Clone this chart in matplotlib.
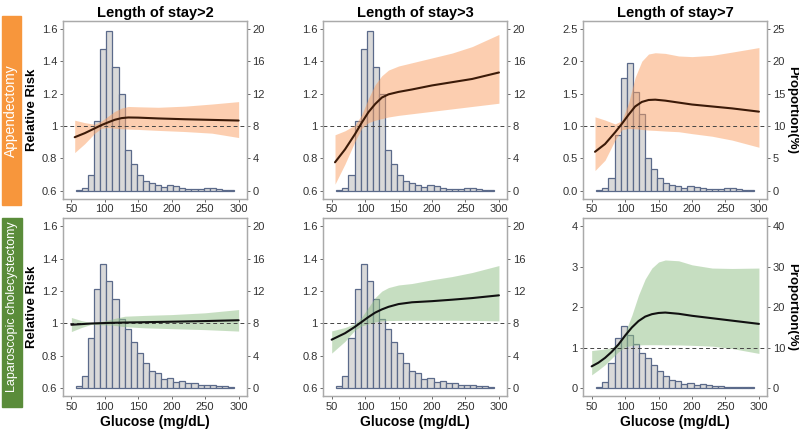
import numpy as np
import matplotlib
matplotlib.use('agg')
import matplotlib.pyplot as plt
from matplotlib.patches import Rectangle

plt.rcParams['font.family'] = ['Liberation Sans', 'DejaVu Sans']

# glucose histogram: bin edges (mg/dL) and proportion of patients (%)
bin_edges = np.linspace(57, 293, 27)
append_prop = [0.12, 0.33, 1.93, 8.6, 17.46, 19.75, 15.3, 11.9, 5.0, 3.3, 1.93, 1.23, 0.94,
               0.7, 0.45, 0.7, 0.6, 0.33, 0.2, 0.2, 0.2, 0.37, 0.37, 0.25, 0.12, 0.12]
chole_prop = [0.29, 1.47, 6.2, 12.3, 15.3, 13.2, 11.0, 8.6, 7.35, 5.7, 4.3, 3.14, 2.12,
              1.84, 1.1, 1.27, 0.73, 0.94, 0.69, 0.65, 0.45, 0.37, 0.37, 0.24, 0.33, 0.2]

# relative risk curves with 95% CI
app2_x = [55, 70, 85, 95, 105, 115, 125, 135, 150, 180, 220, 260, 300]
app2_rr = [0.93, 0.955, 0.985, 1.005, 1.022, 1.038, 1.048, 1.052, 1.051, 1.046, 1.041, 1.037, 1.033]
app2_hi = [1.035, 1.02, 1.01, 1.03, 1.06, 1.09, 1.11, 1.12, 1.118, 1.115, 1.122, 1.135, 1.15]
app2_lo = [0.835, 0.89, 0.955, 0.985, 0.99, 0.985, 0.982, 0.98, 0.978, 0.972, 0.965, 0.955, 0.928]

app3_x = [55, 70, 85, 95, 105, 115, 125, 135, 150, 170, 200, 230, 260, 300]
app3_rr = [0.775, 0.855, 0.95, 1.02, 1.085, 1.135, 1.175, 1.195, 1.21, 1.225, 1.25, 1.27, 1.29, 1.33]
app3_hi = [0.945, 0.97, 1.005, 1.07, 1.17, 1.255, 1.31, 1.345, 1.37, 1.39, 1.42, 1.45, 1.49, 1.565]
app3_lo = [0.64, 0.765, 0.905, 0.985, 1.02, 1.035, 1.045, 1.055, 1.065, 1.075, 1.09, 1.105, 1.12, 1.14]

app7_x = [55, 70, 85, 95, 105, 115, 125, 135, 145, 160, 180, 200, 230, 260, 300]
app7_rr = [0.60, 0.72, 0.90, 1.03, 1.17, 1.30, 1.37, 1.40, 1.405, 1.39, 1.36, 1.33, 1.30, 1.27, 1.22]
app7_hi = [1.14, 1.09, 1.03, 1.08, 1.35, 1.75, 2.00, 2.11, 2.13, 2.12, 2.08, 2.07, 2.09, 2.14, 2.21]
app7_lo = [0.31, 0.47, 0.78, 0.94, 0.96, 0.955, 0.945, 0.935, 0.93, 0.92, 0.91, 0.88, 0.84, 0.78, 0.67]

cho2_x = [50, 65, 80, 95, 110, 130, 160, 200, 250, 300]
cho2_rr = [0.992, 0.996, 1.0, 1.002, 1.004, 1.006, 1.008, 1.011, 1.015, 1.02]
cho2_hi = [1.037, 1.018, 1.005, 1.012, 1.027, 1.045, 1.05, 1.055, 1.066, 1.086]
cho2_lo = [0.95, 0.975, 0.995, 0.992, 0.99, 0.98, 0.973, 0.968, 0.962, 0.953]

cho3_x = [50, 70, 85, 95, 105, 115, 125, 135, 150, 170, 200, 230, 260, 300]
cho3_rr = [0.9, 0.94, 0.98, 1.01, 1.04, 1.067, 1.087, 1.103, 1.12, 1.131, 1.138, 1.147, 1.157, 1.174]
cho3_hi = [0.954, 0.975, 1.0, 1.04, 1.1, 1.16, 1.2, 1.222, 1.238, 1.247, 1.27, 1.29, 1.315, 1.358]
cho3_lo = [0.817, 0.89, 0.96, 0.985, 0.998, 1.01, 1.016, 1.018, 1.019, 1.02, 1.02, 1.02, 1.019, 1.016]

cho7_x = [50, 60, 70, 80, 90, 100, 110, 120, 130, 140, 150, 160, 180, 200, 230, 260, 300]
cho7_rr = [0.54, 0.63, 0.75, 0.90, 1.08, 1.30, 1.50, 1.66, 1.77, 1.83, 1.86, 1.87, 1.84, 1.79, 1.73, 1.67, 1.59]
cho7_hi = [0.93, 0.95, 0.97, 1.00, 1.12, 1.38, 1.80, 2.30, 2.70, 2.97, 3.12, 3.17, 3.15, 3.05, 2.97, 2.96, 2.97]
cho7_lo = [0.33, 0.45, 0.58, 0.74, 0.90, 1.02, 1.06, 1.07, 1.075, 1.075, 1.075, 1.07, 1.07, 1.06, 1.04, 0.98, 0.86]

titles = ['Length of stay>2', 'Length of stay>3', 'Length of stay>7']
x_ticks = [50, 100, 150, 200, 250, 300]

# per-panel axis settings: (rr ticks, rr labels, proportion ticks, rr at 0%, rr per 1%)
small_axis = ([0.6, 0.8, 1, 1.2, 1.4, 1.6], ['0.6', '0.8', '1', '1.2', '1.4', '1.6'],
              [0, 4, 8, 12, 16, 20], 0.6, 0.05)
app7_axis = ([0, 0.5, 1, 1.5, 2, 2.5], ['0.0', '0.5', '1.0', '1.5', '2.0', '2.5'],
             [0, 5, 10, 15, 20, 25], 0.0, 0.1)
cho7_axis = ([0, 1, 2, 3, 4], ['0', '1', '2', '3', '4'], [0, 10, 20, 30, 40], 0.0, 0.1)

rows = [
    (append_prop, '#FA9F62', '#3B1A08',
     [(app2_x, app2_rr, app2_hi, app2_lo, small_axis),
      (app3_x, app3_rr, app3_hi, app3_lo, small_axis),
      (app7_x, app7_rr, app7_hi, app7_lo, app7_axis)]),
    (chole_prop, '#8FBF84', '#111111',
     [(cho2_x, cho2_rr, cho2_hi, cho2_lo, small_axis),
      (cho3_x, cho3_rr, cho3_hi, cho3_lo, small_axis),
      (cho7_x, cho7_rr, cho7_hi, cho7_lo, cho7_axis)]),
]

W, H = 799, 430
fig = plt.figure(figsize=(W / 100, H / 100), dpi=100)
col_left = [63, 323.3, 583.3]
row_top = [20.7, 218.3]
aw, ah = 184, 178
spine_c = '#AAAAAA'
tick_c = '#333333'

for r, (props, fill_c, line_c, panels) in enumerate(rows):
    for c, (gx, rr, hi, lo, axis) in enumerate(panels):
        rt, rl, pt, rr0, k = axis
        ax = fig.add_axes([col_left[c] / W, 1 - (row_top[r] + ah) / H, aw / W, ah / H])
        ax2 = ax.twinx()
        ax.set_zorder(ax2.get_zorder() + 1)
        ax.patch.set_visible(False)

        span = rt[-1] - rt[0]
        lo_lim, hi_lim = rt[0] - 0.05 * span, rt[-1] + 0.05 * span
        ax.set_ylim(lo_lim, hi_lim)
        ax2.set_ylim((lo_lim - rr0) / k, (hi_lim - rr0) / k)
        ax.set_xlim(37.5, 312.5)

        ax2.bar(bin_edges[:-1], props, width=np.diff(bin_edges), align='edge',
                color='#D9D9D9', edgecolor='#5B6A8A', linewidth=0.9)

        ax.fill_between(gx, lo, hi, color=fill_c, alpha=0.5, linewidth=0)
        ax.axhline(1, color='#444444', linestyle=(0, (4, 3)), linewidth=0.7)
        ax.plot(gx, rr, color=line_c, linewidth=1.5, solid_capstyle='round')

        ax.set_yticks(rt)
        ax.set_yticklabels(rl)
        ax2.set_yticks(pt)
        ax.set_xticks(x_ticks)
        for a in (ax, ax2):
            for s in a.spines.values():
                s.set_color(spine_c)
                s.set_linewidth(0.9)
            a.tick_params(labelsize=8, labelcolor=tick_c, color='#555555',
                          length=2.5, width=0.6, pad=1.5)

        if r == 0:
            ax.set_title(titles[c], fontsize=10.5, fontweight='bold', pad=3)
        else:
            ax.set_xlabel('Glucose (mg/dL)', fontsize=10, fontweight='bold', labelpad=2)

        yc = 1 - (row_top[r] + ah / 2) / H
        if c == 0:
            fig.text(31.7 / W, yc, 'Relative Risk', rotation=90, fontsize=9.5,
                     fontweight='bold', ha='center', va='center')
        if c == 2:
            fig.text(792.5 / W, yc, 'Proportion(%)', rotation=270, fontsize=9.5,
                     fontweight='bold', ha='center', va='center')

# group strips on the left
fig.patches.append(Rectangle((1.7 / W, 1 - 205 / H), 19.3 / W, 189 / H,
                             transform=fig.transFigure, color='#F7963C', zorder=0))
fig.text(11.3 / W, 1 - 110.5 / H, 'Appendectomy', rotation=90, color='white',
         fontsize=10, ha='center', va='center')
fig.patches.append(Rectangle((1.7 / W, 1 - 406.7 / H), 20 / W, 188.4 / H,
                             transform=fig.transFigure, color='#5A8C3A', zorder=0))
fig.text(11.7 / W, 1 - 307 / H, 'Laparoscopic cholecystectomy', rotation=90, color='white',
         fontsize=9, ha='center', va='center')

plt.savefig('out.png', dpi=100)
